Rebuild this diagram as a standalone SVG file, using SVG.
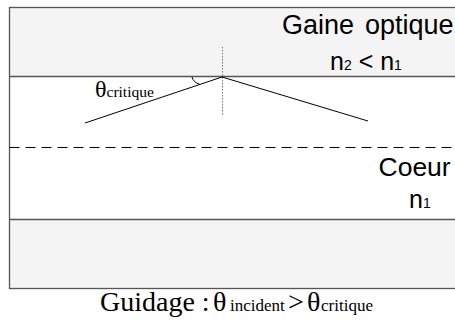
<svg xmlns="http://www.w3.org/2000/svg" width="455" height="322" viewBox="0 0 455 322">
<style>
.band{fill:#f4f4f4;stroke:none}
.edge{stroke:#555;stroke-width:1.3;fill:none}
.ray{stroke:#000;stroke-width:1;fill:none}
.sans{font-family:"Liberation Sans",Arial,sans-serif;fill:#000}
.serif{font-family:"Liberation Serif","Times New Roman",serif;fill:#000}
</style>
<rect width="455" height="322" fill="#fff"/>
<g id="gaine">
<rect class="band" x="9.5" y="7.5" width="460" height="69"/>
<text class="sans" x="282" y="34" font-size="27">Gaine</text>
<text class="sans" x="365" y="34" font-size="27">optique</text>
<text class="sans" x="330" y="70" font-size="25">n<tspan font-size="14">2</tspan> &lt; n<tspan font-size="14">1</tspan></text>
</g>
<g id="coeur">
<text class="sans" x="378.5" y="176" font-size="26.5">Coeur</text>
<text class="sans" x="409" y="208" font-size="25">n<tspan font-size="14">1</tspan></text>
</g>
<g id="gaine-bas">
<rect class="band" x="9.5" y="219.5" width="460" height="69"/>
</g>
<g id="borders">
<rect class="edge" x="9.5" y="7.5" width="470" height="281"/>
<line class="edge" x1="9.5" y1="76.5" x2="470" y2="76.5"/>
<line class="edge" x1="9.5" y1="219.5" x2="470" y2="219.5"/>
<line x1="9.5" y1="147.5" x2="470" y2="147.5" stroke="#000" stroke-width="1" stroke-dasharray="10 6"/>
</g>
<g id="connectors">
<line x1="222.5" y1="47" x2="222.5" y2="115" stroke="#777" stroke-width="1" stroke-dasharray="1.5 1.5"/>
<line class="ray" x1="85" y1="123" x2="222" y2="77"/>
<line class="ray" x1="222" y1="77" x2="368" y2="121"/>
<path class="ray" d="M192,77 Q193,82 200,84.5"/>
</g>
<g id="label-critique">
<text class="serif" x="95" y="97" font-size="24">θ<tspan font-size="15.5">critique</tspan></text>
</g>
<g id="caption">
<text class="serif" y="311" font-size="28"><tspan x="100">Guidage :</tspan><tspan x="213">θ</tspan><tspan x="230" font-size="17">incident</tspan><tspan x="288">&gt;</tspan><tspan x="307">θ</tspan><tspan x="321" font-size="17">critique</tspan></text>
</g>
</svg>
